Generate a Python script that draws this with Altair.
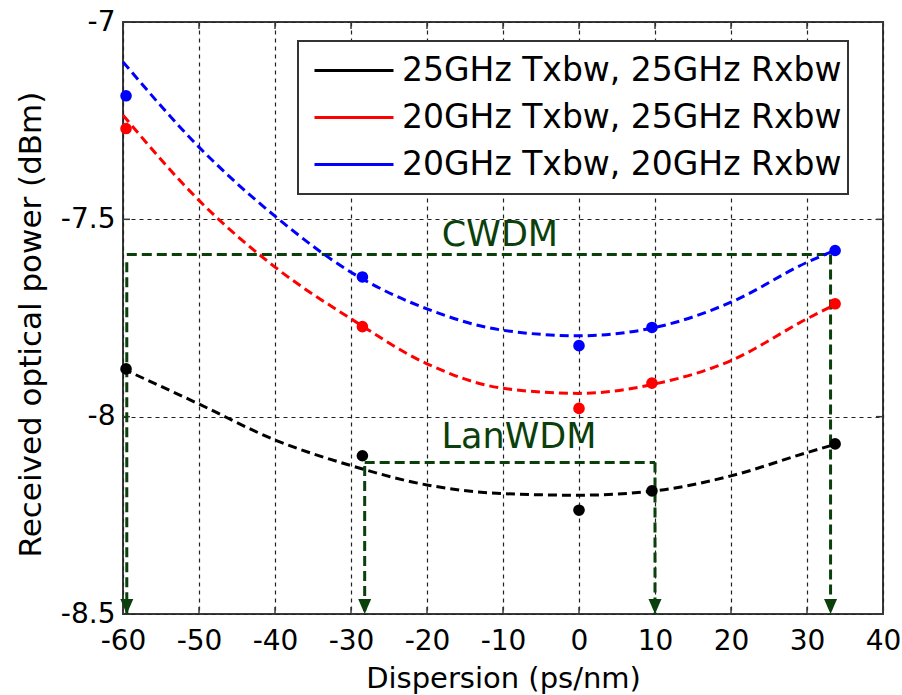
import altair as alt
import pandas as pd

FONT = "DejaVu Sans"

# ---------------- data ----------------
series_names = ["25GHz Txbw, 25GHz Rxbw", "20GHz Txbw, 25GHz Rxbw", "20GHz Txbw, 20GHz Rxbw"]
series_colors = ["#000000", "#ff0000", "#0000ff"]

# measured points
meas_x = [-59.6, -28.5, 0.0, 9.6, 33.7]
meas_black = [-7.879, -8.099, -8.237, -8.188, -8.069]
meas_red = [-7.270, -7.772, -7.979, -7.915, -7.714]
meas_blue = [-7.187, -7.646, -7.820, -7.774, -7.579]

# fitted (dashed) curves
fit_x = [-60, -50, -40, -30, -20, -10, 0, 10, 20, 30, 33.7]
fit_black = [-7.879, -7.968, -8.059, -8.124, -8.173, -8.195, -8.199, -8.188, -8.150, -8.091, -8.070]
fit_red = [-7.236, -7.452, -7.621, -7.752, -7.866, -7.928, -7.941, -7.917, -7.858, -7.752, -7.716]
fit_blue = [-7.101, -7.317, -7.492, -7.634, -7.727, -7.781, -7.795, -7.774, -7.710, -7.609, -7.578]

# axis ticks
x_ticks = [-60, -50, -40, -30, -20, -10, 0, 10, 20, 30, 40]
y_ticks = [-8.5, -8.0, -7.5, -7.0]

# green annotation segments (CWDM / LanWDM windows)
seg_x1 = [-59.5, -59.5, 33.1, -28.2, -28.2, 10.0]
seg_y1 = [-7.589, -7.609, -7.589, -8.116, -8.125, -8.116]
seg_x2 = [33.1, -59.5, 33.1, 10.0, -28.2, 10.0]
seg_y2 = [-7.589, -8.5, -8.5, -8.116, -8.5, -8.5]
arrow_x = [-59.5, -28.2, 10.0, 33.1]
arrow_y = [-8.5, -8.5, -8.5, -8.5]
ann_text = ["CWDM", "LanWDM"]
ann_x = [-10.4, -7.9]
ann_y = [-7.567, -8.079]

GREEN = "#0b3f0b"
FRAME = "#3a3a3a"

# ---------------- tables ----------------
pts = pd.DataFrame(
    [
        {"series": s, "x": x, "y": y}
        for s, ys in zip(series_names, [meas_black, meas_red, meas_blue])
        for x, y in zip(meas_x, ys)
    ]
)
fits = pd.DataFrame(
    [
        {"series": s, "x": x, "y": y, "o": i}
        for s, ys in zip(series_names, [fit_black, fit_red, fit_blue])
        for i, (x, y) in enumerate(zip(fit_x, ys))
    ]
)
segs = pd.DataFrame({"x": seg_x1, "y": seg_y1, "x2": seg_x2, "y2": seg_y2})
arrows = pd.DataFrame({"x": arrow_x, "y": arrow_y})
anns = pd.DataFrame({"x": ann_x, "y": ann_y, "t": ann_text})
xt = pd.DataFrame({"x": x_ticks})
yt = pd.DataFrame({"y": y_ticks})

x_scale = alt.Scale(domain=[-60, 40], nice=False, zero=False)
y_scale = alt.Scale(domain=[-8.5, -7.0], nice=False, zero=False)

x_axis = alt.Axis(
    values=x_ticks,
    title="Dispersion (ps/nm)",
    labelExpr="'' + datum.value",
    grid=True,
    gridDash=[4, 4],
    gridColor="#222222",
    gridWidth=1.2,
    gridOpacity=1,
    ticks=False,
    domain=False,
    labelPadding=13,
    labelFont=FONT,
    labelFontSize=28,
    labelColor="#000000",
    titleFont=FONT,
    titleFontSize=29,
    titleFontWeight="normal",
    titleColor="#000000",
    titleBaseline="alphabetic",
    titleY=73,
    labelFlush=False,
)
y_axis = alt.Axis(
    values=y_ticks,
    title="Received optical power (dBm)",
    labelExpr="'' + datum.value",
    grid=True,
    gridDash=[4, 4],
    gridColor="#222222",
    gridWidth=1.2,
    gridOpacity=1,
    ticks=False,
    domain=False,
    labelPadding=8,
    labelFont=FONT,
    labelFontSize=28,
    labelColor="#000000",
    labelFlush=False,
    titleFont=FONT,
    titleFontSize=31,
    titleFontWeight="normal",
    titleColor="#000000",
    titleAngle=270,
    titleAlign="center",
    titleBaseline="alphabetic",
    titleX=-83,
    titleY=302,
)

X = alt.X("x:Q", scale=x_scale, axis=x_axis)
Y = alt.Y("y:Q", scale=y_scale, axis=y_axis)

color_scale = alt.Scale(domain=series_names, range=series_colors)

legend = alt.Legend(
    title=None,
    orient="none",
    legendX=175,
    legendY=19,
    symbolType="stroke",
    symbolSize=6241,
    symbolStrokeWidth=3,
    labelFont=FONT,
    labelFontSize=33,
    labelColor="#000000",
    labelLimit=1000,
    clipHeight=47,
    rowPadding=0,
    padding=6,
    symbolOffset=9,
    labelOffset=7,
    strokeColor="#333333",
    fillColor="#ffffff",
)

# legend-only layer (no rows drawn): gives solid line symbols like the reference
legend_layer = (
    alt.Chart(fits)
    .transform_filter("false")
    .mark_line(strokeWidth=3)
    .encode(
        x=X,
        y=Y,
        color=alt.Color("series:N", scale=color_scale, sort=series_names, legend=legend),
    )
)

segments = alt.Chart(segs).mark_rule(
    color=GREEN, strokeWidth=3, strokeDash=[10, 5]
).encode(x=X, y=Y, x2="x2:Q", y2="y2:Q")

arrowheads = alt.Chart(arrows).mark_point(
    shape="M-1,-2.3L1,-2.3L0,0Z", size=169, filled=True, color=GREEN, opacity=1
).encode(x=X, y=Y)

labels = alt.Chart(anns).mark_text(
    font=FONT, fontSize=35, color=GREEN, align="center", baseline="alphabetic"
).encode(x=X, y=Y, text="t:N")

curves = alt.Chart(fits).mark_line(
    strokeWidth=3, interpolate="monotone", strokeDash=[9, 5]
).encode(
    x=X,
    y=Y,
    order="o:Q",
    color=alt.Color("series:N", scale=color_scale, legend=None),
)

points = alt.Chart(pts).mark_circle(size=135, opacity=1).encode(
    x=X,
    y=Y,
    color=alt.Color("series:N", scale=color_scale, legend=None),
)

# inward frame ticks (MATLAB style) at the axis tick values
tick_bottom = alt.Chart(xt).mark_rule(color=FRAME, strokeWidth=1.5).encode(
    x=X, y=alt.value(592), y2=alt.value(585)
)
tick_top = alt.Chart(xt).mark_rule(color=FRAME, strokeWidth=1.5).encode(
    x=X, y=alt.value(0), y2=alt.value(7)
)
tick_left = alt.Chart(yt).mark_rule(color=FRAME, strokeWidth=1.5).encode(
    y=Y, x=alt.value(0), x2=alt.value(7)
)
tick_right = alt.Chart(yt).mark_rule(color=FRAME, strokeWidth=1.5).encode(
    y=Y, x=alt.value(760), x2=alt.value(753)
)

chart = (
    alt.layer(
        legend_layer,
        tick_bottom, tick_top, tick_left, tick_right,
        segments, arrowheads, curves, points, labels,
    )
    .properties(
        width=760,
        height=592,
        autosize=alt.AutoSizeParams(type="none"),
        padding={"left": 123, "top": 22, "right": 19, "bottom": 81},
        background="#ffffff",
    )
    .configure_view(stroke=FRAME, strokeWidth=2)
    .configure_legend(strokeWidth=2)
)

chart.save("out.html", embed_options={"renderer": "svg", "actions": False})
